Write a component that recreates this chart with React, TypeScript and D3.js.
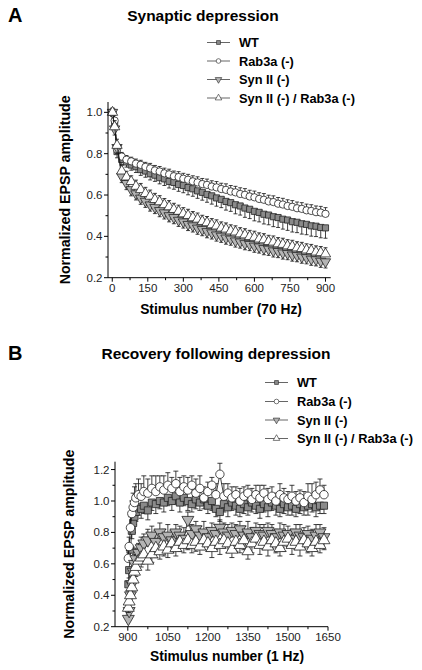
import React from 'react';
import * as d3 from 'd3';

// ---------- Panel A data (70 Hz train) ----------
const A_STIM = [1, 10, 20, 40, 60, 80, 100, 120, 140, 160, 180, 200, 220, 240, 260, 280, 300, 320, 340, 360, 380, 400, 420, 440, 460, 480, 500, 520, 540, 560, 580, 600, 620, 640, 660, 680, 700, 720, 740, 760, 780, 800, 820, 840, 860, 880, 900];
const A_WT = [1.0, 0.94, 0.81, 0.772, 0.76, 0.745, 0.737, 0.723, 0.716, 0.703, 0.696, 0.684, 0.678, 0.666, 0.661, 0.651, 0.646, 0.636, 0.63, 0.62, 0.613, 0.603, 0.596, 0.586, 0.579, 0.569, 0.563, 0.553, 0.547, 0.537, 0.531, 0.521, 0.516, 0.507, 0.503, 0.495, 0.491, 0.483, 0.479, 0.471, 0.468, 0.461, 0.458, 0.451, 0.449, 0.443, 0.441];
const A_WT_ERR = [0.02, 0.03, 0.03, 0.025, 0.025, 0.025, 0.028, 0.028, 0.03, 0.03, 0.03, 0.03, 0.032, 0.032, 0.033, 0.033, 0.035, 0.035, 0.036, 0.036, 0.038, 0.038, 0.04, 0.04, 0.04, 0.042, 0.042, 0.044, 0.044, 0.045, 0.045, 0.046, 0.046, 0.047, 0.047, 0.048, 0.048, 0.048, 0.05, 0.05, 0.05, 0.05, 0.05, 0.05, 0.05, 0.05, 0.05];
const A_RAB = [1.0, 0.96, 0.82, 0.786, 0.771, 0.763, 0.752, 0.746, 0.736, 0.729, 0.719, 0.714, 0.705, 0.7, 0.691, 0.687, 0.679, 0.674, 0.666, 0.661, 0.653, 0.649, 0.641, 0.637, 0.629, 0.625, 0.617, 0.613, 0.605, 0.601, 0.593, 0.589, 0.581, 0.577, 0.569, 0.566, 0.558, 0.554, 0.547, 0.543, 0.536, 0.533, 0.526, 0.523, 0.517, 0.515, 0.509];
const A_RAB_ERR = [0.02, 0.03, 0.025, 0.02, 0.02, 0.02, 0.022, 0.022, 0.022, 0.024, 0.024, 0.024, 0.025, 0.025, 0.025, 0.026, 0.026, 0.026, 0.027, 0.027, 0.027, 0.028, 0.028, 0.028, 0.028, 0.029, 0.029, 0.029, 0.03, 0.03, 0.03, 0.03, 0.03, 0.03, 0.03, 0.03, 0.03, 0.03, 0.03, 0.03, 0.03, 0.03, 0.03, 0.03, 0.03, 0.03, 0.03];
const A_SYN = [1.0, 0.92, 0.83, 0.69, 0.656, 0.626, 0.606, 0.585, 0.57, 0.552, 0.54, 0.525, 0.514, 0.5, 0.491, 0.478, 0.47, 0.458, 0.451, 0.44, 0.433, 0.423, 0.417, 0.407, 0.401, 0.392, 0.387, 0.378, 0.373, 0.365, 0.361, 0.353, 0.349, 0.341, 0.338, 0.33, 0.327, 0.32, 0.317, 0.31, 0.307, 0.3, 0.297, 0.29, 0.287, 0.28, 0.277];
const A_SYN_ERR = [0.02, 0.03, 0.03, 0.03, 0.03, 0.03, 0.03, 0.03, 0.03, 0.03, 0.03, 0.03, 0.03, 0.03, 0.03, 0.03, 0.03, 0.03, 0.03, 0.03, 0.03, 0.03, 0.03, 0.03, 0.03, 0.03, 0.03, 0.03, 0.03, 0.03, 0.03, 0.03, 0.03, 0.03, 0.03, 0.03, 0.03, 0.03, 0.03, 0.03, 0.03, 0.03, 0.03, 0.03, 0.03, 0.03, 0.03];
const A_DKO = [1.0, 0.93, 0.84, 0.716, 0.687, 0.665, 0.642, 0.626, 0.607, 0.594, 0.578, 0.567, 0.553, 0.543, 0.53, 0.521, 0.509, 0.501, 0.49, 0.483, 0.472, 0.466, 0.456, 0.45, 0.44, 0.435, 0.426, 0.421, 0.412, 0.407, 0.399, 0.395, 0.387, 0.383, 0.375, 0.372, 0.364, 0.361, 0.354, 0.351, 0.344, 0.341, 0.334, 0.331, 0.324, 0.321, 0.315];
const A_DKO_ERR = [0.02, 0.03, 0.03, 0.028, 0.028, 0.028, 0.03, 0.03, 0.03, 0.03, 0.03, 0.03, 0.03, 0.03, 0.03, 0.03, 0.03, 0.03, 0.03, 0.03, 0.03, 0.03, 0.03, 0.03, 0.03, 0.03, 0.03, 0.03, 0.03, 0.03, 0.03, 0.03, 0.03, 0.03, 0.03, 0.03, 0.03, 0.03, 0.03, 0.03, 0.03, 0.03, 0.03, 0.03, 0.03, 0.03, 0.03];

// ---------- Panel B data (1 Hz recovery) ----------
const B_STIM = [902, 905, 910, 915, 920, 925, 930, 940, 950, 960, 975, 990, 1005, 1020, 1035, 1050, 1065, 1080, 1095, 1110, 1125, 1140, 1155, 1170, 1185, 1200, 1215, 1230, 1245, 1260, 1275, 1290, 1305, 1320, 1335, 1350, 1365, 1380, 1395, 1410, 1425, 1440, 1455, 1470, 1485, 1500, 1515, 1530, 1545, 1560, 1575, 1590, 1605, 1620, 1635];
const B_WT = [0.47, 0.56, 0.69, 0.81, 0.86, 0.9, 0.93, 0.96, 0.95, 0.97, 0.94, 0.99, 0.98, 1.0, 0.99, 1.02, 1.0, 1.03, 0.99, 1.02, 1.0, 0.98, 1.01, 0.99, 1.01, 0.97, 1.0, 0.95, 0.93, 0.98, 0.96, 0.99, 0.97, 0.95, 0.98, 0.96, 0.99, 0.97, 0.95, 0.98, 0.96, 0.99, 0.97, 0.95, 0.98, 0.96, 0.97, 0.95, 0.98, 0.96, 0.97, 0.98, 0.96, 0.97, 0.97];
const B_WT_ERR = [0.04, 0.05, 0.05, 0.05, 0.06, 0.05, 0.06, 0.05, 0.06, 0.05, 0.06, 0.05, 0.06, 0.05, 0.06, 0.05, 0.06, 0.05, 0.06, 0.05, 0.06, 0.05, 0.06, 0.05, 0.06, 0.05, 0.06, 0.05, 0.06, 0.05, 0.06, 0.05, 0.06, 0.05, 0.06, 0.05, 0.06, 0.05, 0.06, 0.05, 0.06, 0.05, 0.06, 0.05, 0.06, 0.05, 0.06, 0.05, 0.06, 0.05, 0.06, 0.05, 0.06, 0.05, 0.05];
const B_RAB = [0.635, 0.71, 0.83, 0.92, 0.96, 0.99, 1.02, 1.04, 1.03, 1.06, 1.05, 1.08, 1.06, 1.09, 1.07, 1.1, 1.08, 1.11, 1.06, 1.09, 1.07, 1.1, 1.05, 1.08, 1.02, 1.06, 1.1, 1.04, 1.17, 1.03, 1.05, 1.02, 1.04, 1.0, 1.03, 1.05, 1.01, 1.04, 1.02, 1.05, 1.01, 1.03, 1.0, 1.04, 1.02, 1.01, 1.03, 1.0, 1.02, 0.99, 1.03, 1.01, 1.04, 1.07, 1.04];
const B_RAB_ERR = [0.05, 0.06, 0.07, 0.08, 0.09, 0.1, 0.09, 0.1, 0.08, 0.1, 0.09, 0.08, 0.1, 0.07, 0.09, 0.08, 0.07, 0.08, 0.09, 0.07, 0.08, 0.06, 0.09, 0.08, 0.07, 0.06, 0.05, 0.07, 0.07, 0.08, 0.06, 0.07, 0.05, 0.08, 0.06, 0.05, 0.07, 0.06, 0.08, 0.05, 0.07, 0.06, 0.05, 0.07, 0.06, 0.05, 0.07, 0.06, 0.05, 0.07, 0.08, 0.1, 0.08, 0.07, 0.06];
const B_SYN = [0.25, 0.3, 0.4, 0.47, 0.55, 0.6, 0.63, 0.67, 0.7, 0.73, 0.75, 0.78, 0.74, 0.8, 0.77, 0.78, 0.75, 0.8, 0.78, 0.76, 0.88, 0.79, 0.82, 0.78, 0.8, 0.77, 0.81, 0.79, 0.83, 0.8, 0.78, 0.81, 0.79, 0.82, 0.78, 0.8, 0.77, 0.81, 0.79, 0.78, 0.81, 0.79, 0.77, 0.8, 0.78, 0.79, 0.76, 0.8, 0.78, 0.77, 0.79, 0.76, 0.78, 0.8, 0.77];
const B_SYN_ERR = [0.03, 0.04, 0.05, 0.05, 0.06, 0.06, 0.07, 0.06, 0.07, 0.06, 0.07, 0.06, 0.07, 0.06, 0.05, 0.07, 0.06, 0.05, 0.06, 0.07, 0.05, 0.06, 0.05, 0.06, 0.07, 0.06, 0.05, 0.06, 0.05, 0.06, 0.07, 0.05, 0.06, 0.05, 0.06, 0.07, 0.06, 0.05, 0.06, 0.07, 0.05, 0.06, 0.05, 0.06, 0.07, 0.05, 0.06, 0.05, 0.07, 0.06, 0.05, 0.06, 0.07, 0.05, 0.06];
const B_DKO = [0.32, 0.36, 0.4, 0.45, 0.5, 0.55, 0.58, 0.62, 0.64, 0.66, 0.62, 0.66, 0.7, 0.68, 0.71, 0.69, 0.73, 0.7, 0.74, 0.72, 0.75, 0.72, 0.74, 0.71, 0.75, 0.73, 0.7, 0.74, 0.72, 0.75, 0.73, 0.69, 0.74, 0.72, 0.75, 0.68, 0.73, 0.76, 0.72, 0.74, 0.71, 0.75, 0.73, 0.7, 0.74, 0.76, 0.72, 0.74, 0.71, 0.75, 0.73, 0.7, 0.74, 0.72, 0.75];
const B_DKO_ERR = [0.03, 0.04, 0.04, 0.05, 0.05, 0.05, 0.06, 0.05, 0.06, 0.05, 0.06, 0.05, 0.06, 0.05, 0.06, 0.05, 0.06, 0.05, 0.06, 0.05, 0.06, 0.05, 0.06, 0.05, 0.06, 0.05, 0.06, 0.05, 0.06, 0.05, 0.06, 0.05, 0.06, 0.05, 0.06, 0.05, 0.06, 0.05, 0.06, 0.05, 0.06, 0.05, 0.06, 0.05, 0.06, 0.05, 0.06, 0.05, 0.06, 0.05, 0.06, 0.05, 0.06, 0.05, 0.06];

// ---------- labels and ticks ----------
const SERIES_NAMES = ['WT', 'Rab3a (-)', 'Syn II (-)', 'Syn II (-) / Rab3a (-)'];
const A_XTICKS = [0, 150, 300, 450, 600, 750, 900];
const A_XMINOR = [75, 225, 375, 525, 675, 825];
const A_YTICKS = [0.2, 0.4, 0.6, 0.8, 1.0];
const A_YMINOR = [0.3, 0.5, 0.7, 0.9];
const B_XTICKS = [900, 1050, 1200, 1350, 1500, 1650];
const B_XMINOR = [975, 1125, 1275, 1425, 1575];
const B_YTICKS = [0.2, 0.4, 0.6, 0.8, 1.0, 1.2];
const B_YMINOR = [0.3, 0.5, 0.7, 0.9, 1.1];

const FONT = '"Liberation Sans", Arial, Helvetica, sans-serif';

type Kind = 'square' | 'circle' | 'down' | 'up';
const STYLES: { kind: Kind; fill: string }[] = [
  { kind: 'square', fill: '#8a8a8a' },
  { kind: 'circle', fill: '#ffffff' },
  { kind: 'down', fill: '#b4b4b4' },
  { kind: 'up', fill: '#ffffff' },
];

function markerPath(kind: Kind, size: number): string {
  const t = kind === 'square' ? d3.symbolSquare : kind === 'circle' ? d3.symbolCircle : d3.symbolTriangle;
  return d3.symbol().type(t).size(size)() as string;
}

function Marker({ kind, x, y, size, fill, sw = 0.8 }: { kind: Kind; x: number; y: number; size: number; fill: string; sw?: number }) {
  const sz = kind === 'square' ? size * 0.9 : kind === 'circle' ? size : size * 1.1;
  const rot = kind === 'down' ? ' rotate(180)' : '';
  return (
    <path d={markerPath(kind, sz)} transform={`translate(${x},${y})${rot}`} fill={fill} stroke="#222" strokeWidth={sw} />
  );
}

interface SeriesData { x: number[]; y: number[]; e: number[]; dir: number }

interface PanelProps {
  xDomain: [number, number];
  xRange: [number, number];
  yDomain: [number, number];
  yRange: [number, number];
  series: SeriesData[];
  xTicks: number[];
  xMinor: number[];
  yTicks: number[];
  yMinor: number[];
  markerSize: number;
  cap: number;
  xLabelY: number;
  xTitle: string;
  xTitleX: number;
  xTitleY: number;
  yTitleX: number;
  letter: string;
  letterY: number;
  title: string;
  titleX: number;
  titleY: number;
  legendX: number;
  legendY: number[];
}

function Panel(p: PanelProps) {
  const x = d3.scaleLinear().domain(p.xDomain).range(p.xRange);
  const y = d3.scaleLinear().domain(p.yDomain).range(p.yRange);
  const [ax0, ax1] = p.xRange;
  const [ayB, ayT] = p.yRange;
  const line = d3.line<[number, number]>();
  return (
    <g>
      <text x={8} y={p.letterY} fontFamily={FONT} fontWeight="bold" fontSize={20}>{p.letter}</text>
      <text x={p.titleX} y={p.titleY} fontFamily={FONT} fontWeight="bold" fontSize={15.5} textAnchor="middle">{p.title}</text>
      {SERIES_NAMES.map((n, i) => (
        <g key={n}>
          <line x1={p.legendX} x2={p.legendX + 23} y1={p.legendY[i] - 4.5} y2={p.legendY[i] - 4.5} stroke="#666" strokeWidth={1} />
          <Marker kind={STYLES[i].kind} x={p.legendX + 11.5} y={p.legendY[i] - 4.5} size={17} fill={STYLES[i].fill} sw={0.6} />
          <text x={p.legendX + 32} y={p.legendY[i]} fontFamily={FONT} fontWeight="bold" fontSize={12.8}>{n}</text>
        </g>
      ))}
      {p.series.map((s, si) => {
        const pts = s.x.map((v, i) => [x(v), y(s.y[i])] as [number, number]);
        return (
          <g key={si}>
            {s.x.map((v, i) => {
              const yv = y(s.y[i] + s.dir * s.e[i]);
              return (
                <g key={i} stroke="#111" strokeWidth={0.8}>
                  <line x1={x(v)} x2={x(v)} y1={y(s.y[i])} y2={yv} />
                  <line x1={x(v) - p.cap} x2={x(v) + p.cap} y1={yv} y2={yv} />
                </g>
              );
            })}
            <path d={line(pts) as string} fill="none" stroke="#111" strokeWidth={0.8} />
            {pts.map(([px, py], i) => (
              <Marker key={i} kind={STYLES[si].kind} x={px} y={py} size={p.markerSize} fill={STYLES[si].fill} />
            ))}
          </g>
        );
      })}
      <line x1={ax0} x2={ax0} y1={ayT} y2={ayB} stroke="#000" strokeWidth={1} />
      <line x1={ax0} x2={ax1} y1={ayB} y2={ayB} stroke="#000" strokeWidth={1} />
      {p.yTicks.map((t) => (
        <g key={'yt' + t}>
          <line x1={ax0 - 4} x2={ax0} y1={y(t)} y2={y(t)} stroke="#000" />
          <text x={ax0 - 5.5} y={y(t) + 4} textAnchor="end" fontFamily={FONT} fontSize={11.5} fill="#222">{t.toFixed(1)}</text>
        </g>
      ))}
      {p.yMinor.map((t) => (
        <line key={'ym' + t} x1={ax0 - 2.5} x2={ax0} y1={y(t)} y2={y(t)} stroke="#000" />
      ))}
      {p.xTicks.map((t) => (
        <g key={'xt' + t}>
          <line x1={x(t)} x2={x(t)} y1={ayB} y2={ayB + 4} stroke="#000" />
          <text x={x(t)} y={p.xLabelY} textAnchor="middle" fontFamily={FONT} fontSize={11.5} fill="#222">{String(t)}</text>
        </g>
      ))}
      {p.xMinor.map((t) => (
        <line key={'xm' + t} x1={x(t)} x2={x(t)} y1={ayB} y2={ayB + 2.5} stroke="#000" />
      ))}
      <text x={p.xTitleX} y={p.xTitleY} textAnchor="middle" fontFamily={FONT} fontWeight="bold" fontSize={13.8}>{p.xTitle}</text>
      <text transform={`translate(${p.yTitleX},${(ayT + ayB) / 2}) rotate(-90)`} textAnchor="middle" fontFamily={FONT} fontWeight="bold" fontSize={14.2}>Normalized EPSP amplitude</text>
    </g>
  );
}

export default function App() {
  const seriesA: SeriesData[] = [
    { x: A_STIM, y: A_WT, e: A_WT_ERR, dir: -1 },
    { x: A_STIM, y: A_RAB, e: A_RAB_ERR, dir: 1 },
    { x: A_STIM, y: A_SYN, e: A_SYN_ERR, dir: -1 },
    { x: A_STIM, y: A_DKO, e: A_DKO_ERR, dir: 1 },
  ];
  const seriesB: SeriesData[] = [
    { x: B_STIM, y: B_WT, e: B_WT_ERR, dir: -1 },
    { x: B_STIM, y: B_RAB, e: B_RAB_ERR, dir: 1 },
    { x: B_STIM, y: B_SYN, e: B_SYN_ERR, dir: 1 },
    { x: B_STIM, y: B_DKO, e: B_DKO_ERR, dir: -1 },
  ];
  return (
    <svg width={422} height={670} style={{ position: 'absolute', left: 0, top: 0, background: '#fff' }}>
      <rect width={422} height={670} fill="#fff" />
      <Panel
        xDomain={[-18, 922]} xRange={[108, 330.7]} yDomain={[0.2, 1.05]} yRange={[277.7, 102]}
        series={seriesA} xTicks={A_XTICKS} xMinor={A_XMINOR} yTicks={A_YTICKS} yMinor={A_YMINOR}
        markerSize={42} cap={2} xLabelY={292}
        xTitle="Stimulus number (70 Hz)" xTitleX={221} xTitleY={314} yTitleX={70}
        letter="A" letterY={22} title="Synaptic depression" titleX={203} titleY={21}
        legendX={207} legendY={[47, 65.5, 84, 102.5]}
      />
      <Panel
        xDomain={[852, 1650]} xRange={[115, 328]} yDomain={[0.2, 1.25]} yRange={[626.7, 461.7]}
        series={seriesB} xTicks={B_XTICKS} xMinor={B_XMINOR} yTicks={B_YTICKS} yMinor={B_YMINOR}
        markerSize={56} cap={2.5} xLabelY={641}
        xTitle="Stimulus number (1 Hz)" xTitleX={227} xTitleY={661} yTitleX={74}
        letter="B" letterY={360} title="Recovery following depression" titleX={216} titleY={359}
        legendX={265} legendY={[387, 406, 424.5, 443]}
      />
    </svg>
  );
}
